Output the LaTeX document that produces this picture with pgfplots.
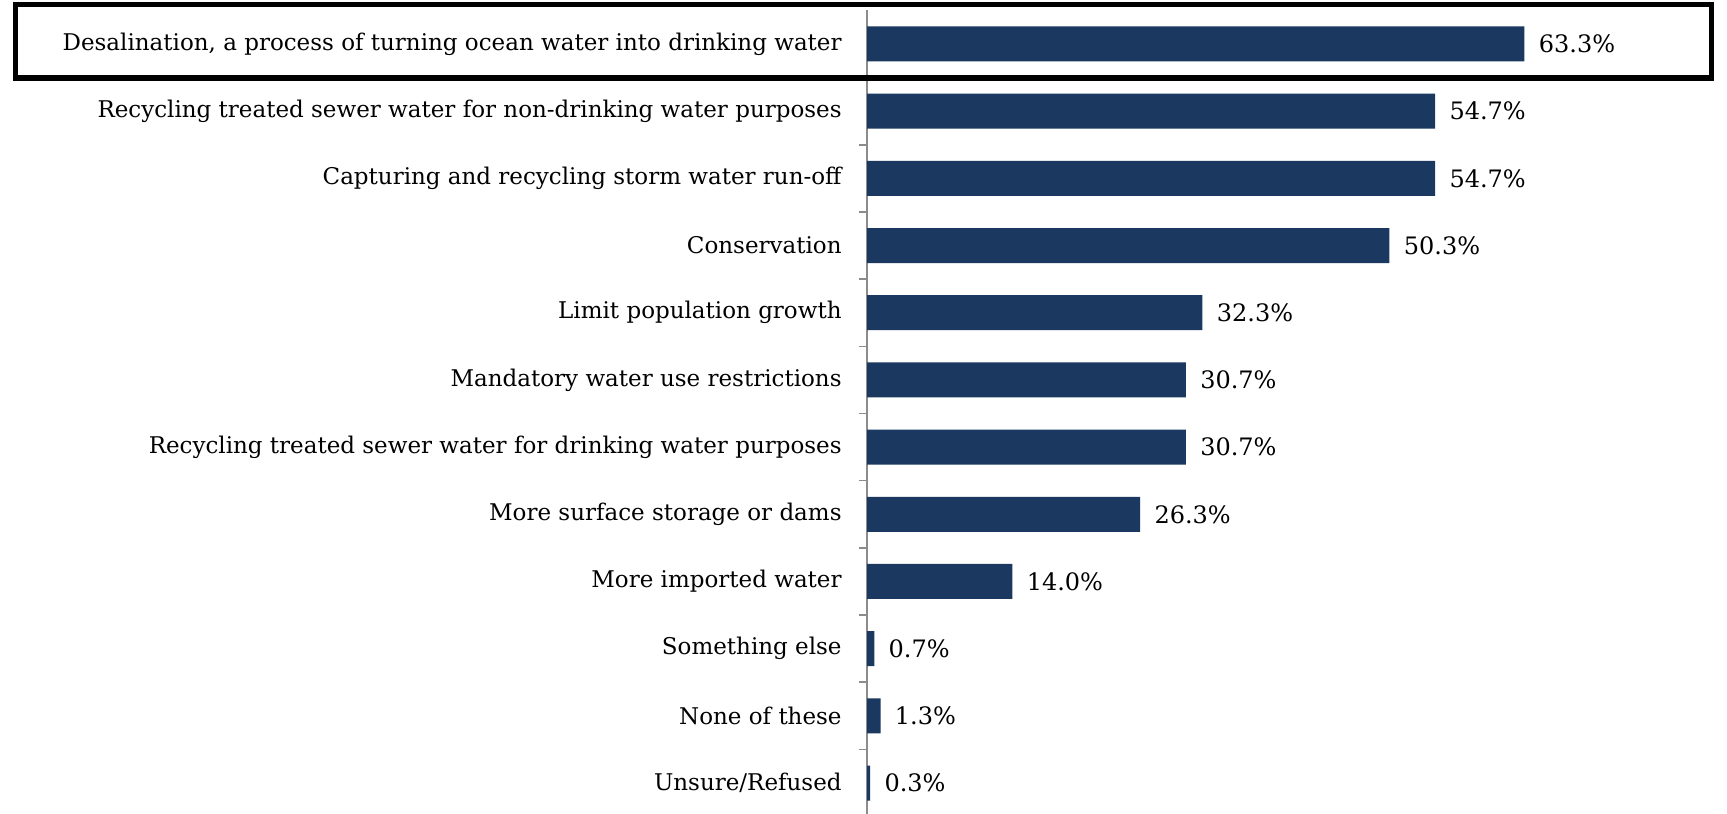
\documentclass[border=0pt]{standalone}
\usepackage{pgfplots}
\pgfplotsset{compat=1.18}
\usepackage{fontspec}
\setmainfont{DejaVu Serif}
\definecolor{navy}{RGB}{26,56,96}
\definecolor{axgray}{RGB}{140,140,140}
\pgfplotstableread{
idx val
0 63.3
1 54.7
2 54.7
3 50.3
4 32.3
5 30.7
6 30.7
7 26.3
8 14.0
9 0.7
10 1.3
11 0.3
}\datatab
\begin{document}
\begin{tikzpicture}
\useasboundingbox (0,0) rectangle (863.5pt,406.5pt);
\begin{axis}[
  scale only axis,
  at={(433.5pt,-1.8pt)}, anchor=south west,
  width=430pt, height=403.1pt,
  xmin=0, xmax=82.8, ymin=-0.5, ymax=11.5,
  y dir=reverse,
  xbar, bar width=17.5pt, bar shift=0pt,
  axis x line=none, axis y line=left,
  axis line style={-, draw=axgray, line width=1pt},
  ytick={0,...,11},
  yticklabels={
    {Desalination, a process of turning ocean water into drinking water},
    {Recycling treated sewer water for non-drinking water purposes},
    {Capturing and recycling storm water run-off},
    {Conservation},
    {Limit population growth},
    {Mandatory water use restrictions},
    {Recycling treated sewer water for drinking water purposes},
    {More surface storage or dams},
    {More imported water},
    {Something else},
    {None of these},
    {Unsure/Refused}},
  major tick length=0pt,
  minor ytick={0.5,1.5,...,10.5},
  minor tick length=4pt,
  tick align=outside,
  ytick pos=left,
  every tick/.style={draw=axgray, line width=0.8pt},
  yticklabel style={font=\fontsize{11.5}{13.5}\selectfont, anchor=east, inner xsep=0pt, xshift=-12.5pt},
  /pgf/number format/assume math mode=true,
  nodes near coords={\pgfmathprintnumber[fixed,fixed zerofill,precision=1]{\pgfplotspointmeta}\%},
  every node near coord/.append style={font=\fontsize{12}{14}\selectfont, black, anchor=west, inner xsep=0pt, xshift=7pt},
  clip=false,
]
\addplot[fill=navy, draw=none] table[x=val, y=idx] {\datatab};
\end{axis}
\draw[line width=2.6pt] (7.8pt,367.5pt) rectangle (855.9pt,404.4pt);
\end{tikzpicture}
\end{document}
